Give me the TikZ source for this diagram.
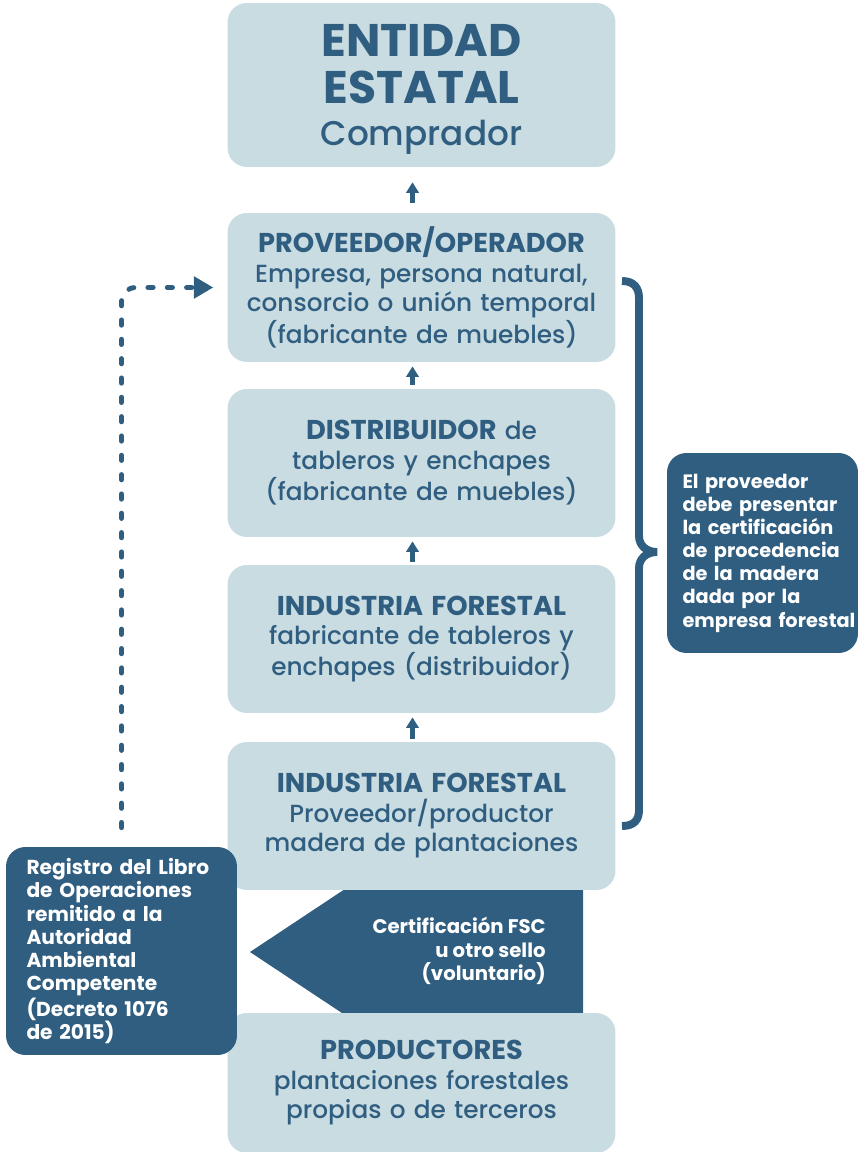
\documentclass[tikz,border=0pt]{standalone}
\usepackage{fontspec}
\setmainfont{Poppins}[UprightFont={* Medium}, BoldFont={* Bold}]
\usetikzlibrary{arrows.meta}
\definecolor{palebox}{HTML}{C9DCE2}
\definecolor{navy}{HTML}{305E80}
\newcommand{\hd}[1]{{\fontsize{15.5pt}{16.8pt}\selectfont\bfseries #1}}
\begin{document}
\begin{tikzpicture}[x=0.02cm, y=-0.02cm,
    stage/.style={rounded corners=11pt, fill=palebox, text=navy, minimum width=7.76cm,
      text width=7.6cm, align=center, inner sep=0pt, font=\fontsize{14.1pt}{16.8pt}\selectfont},
    note/.style={rounded corners=11pt, fill=navy, text=white, align=left, inner sep=0pt,
      font=\fontsize{11.5pt}{13.2pt}\selectfont\bfseries},
    flow/.style={navy, line width=2.3pt, -{Triangle[width=7pt,length=6pt]}}]
    \useasboundingbox (0,0) rectangle (860,1152);
    % etapas de la cadena
    \node[stage, minimum height=3.28cm] (ent) at (421.5,85)
      {\par\vspace*{-0.12cm}{\fontsize{26pt}{26.6pt}\selectfont\bfseries ENTIDAD\\ESTATAL\par}
       {\fontsize{19.5pt}{23.8pt}\selectfont Comprador\par}};
    \node[stage, minimum height=2.98cm] (prov) at (421.5,287.5)
      {\hd{PROVEEDOR/OPERADOR}\\Empresa, persona natural,\\consorcio o unión temporal\\(fabricante de muebles)};
    \node[stage, minimum height=2.96cm] (dist) at (421.5,463)
      {\hd{DISTRIBUIDOR} de\\tableros y enchapes\\(fabricante de muebles)};
    \node[stage, minimum height=2.96cm] (ind) at (421.5,639)
      {\hd{INDUSTRIA FORESTAL}\\fabricante de tableros y\\enchapes (distribuidor)};
    % sello voluntario
    \fill[navy] (583,889) -- (345,889) -- (250,952) -- (345,1015) -- (583,1015) -- cycle;
    \node[text=white, align=right, inner sep=0pt, anchor=east,
      font=\fontsize{11.2pt}{13.2pt}\selectfont\bfseries] (fsc) at (546,951)
      {Certificación FSC\\u otro sello\\(voluntario)};
    \node[stage, minimum height=2.96cm] (indf) at (421.5,816)
      {\hd{INDUSTRIA FORESTAL}\\Proveedor/productor\\madera de plantaciones};
    \node[stage, minimum height=2.8cm] (prod) at (421.5,1083)
      {\hd{PRODUCTORES}\\plantaciones forestales\\propias o de terceros};
    % notas
    \node[note, minimum width=4.62cm, minimum height=4.16cm, text width=3.8cm] (reg) at (121.5,951)
      {Registro del Libro\\de Operaciones\\remitido a la\\Autoridad\\Ambiental\\Competente\\(Decreto 1076\\de 2015)};
    \node[note, minimum width=3.82cm, minimum height=4cm, text width=3.2cm,
      font=\fontsize{11pt}{13.2pt}\selectfont\bfseries] (cert) at (762.5,553)
      {El proveedor\\debe presentar\\la certificación\\de procedencia\\de la madera\\dada por la\\\mbox{empresa forestal}};
    % flechas
    \draw[flow, shorten <=5.7pt, shorten >=8.5pt] ([xshift=-0.18cm]prov.north) -- ([xshift=-0.18cm]ent.south);
    \draw[flow, shorten <=2.3pt, shorten >=2.3pt] ([xshift=-0.18cm]dist.north) -- ([xshift=-0.18cm]prov.south);
    \draw[flow, shorten <=1.7pt, shorten >=2.3pt] ([xshift=-0.18cm]ind.north) -- ([xshift=-0.18cm]dist.south);
    \draw[flow, shorten <=1.7pt, shorten >=2.3pt] ([xshift=-0.18cm]indf.north) -- ([xshift=-0.18cm]ind.south);
    \draw[navy, line width=2.8pt, line cap=round, dash pattern=on 3pt off 8pt, rounded corners=8pt,
      -{Triangle[width=12pt,length=11pt]}, shorten <=10.8pt, shorten >=7.9pt]
      (reg.north) |- (prov.west);
    % llave
    \draw[navy, line width=4.5pt]
      (622,281) .. controls (634,281) and (639,288) .. (639,298) -- (639,536)
      .. controls (639,546) and (647,552) .. (657,552)
      .. controls (647,552) and (639,558) .. (639,568) -- (639,810)
      .. controls (639,820) and (634,826) .. (622,826);
\end{tikzpicture}
\end{document}
